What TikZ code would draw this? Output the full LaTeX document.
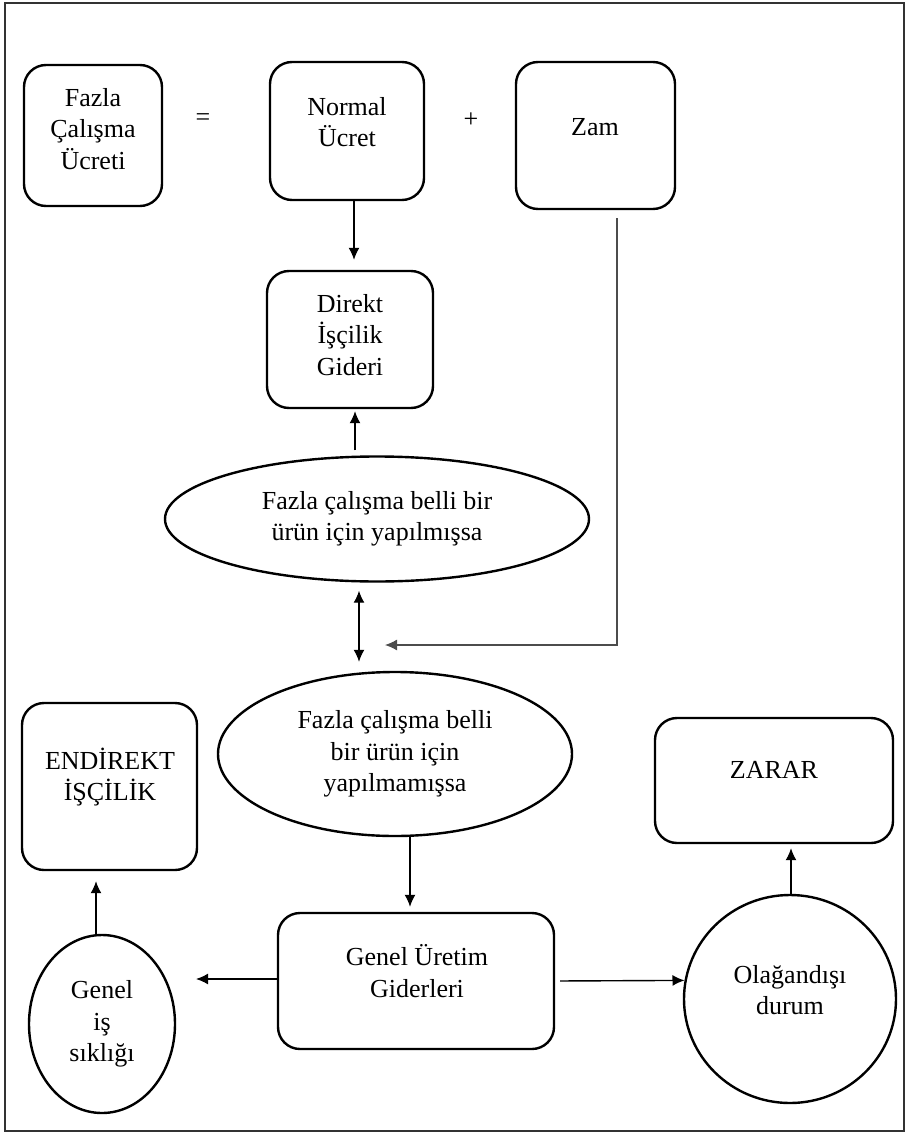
\documentclass[tikz,border=0pt]{standalone}
\usepackage{fontspec}
\setmainfont{Liberation Serif}
\usetikzlibrary{shapes.geometric, arrows.meta, positioning, calc}

\begin{document}
\begin{tikzpicture}[x=0.5pt, y=-0.5pt, >={Latex[length=6pt, width=5.5pt]},
	every node/.style={font=\fontsize{13}{15.75}\selectfont, align=center, inner sep=0pt},
	roundbox/.style={draw, line width=1.2pt, rounded corners=11pt},
	oval/.style={draw, ellipse, line width=1.2pt},
	every path/.style={line width=0.7pt},
	thinline/.style={line width=0.6pt, draw=black!70}]
			\useasboundingbox (0,0) rectangle (908,1134);
			\draw[line width=0.8pt, draw=black!80] (5,3) rectangle (904,1131);
			\node[roundbox, minimum width=69pt, minimum height=70.5pt] (fcu) at (93,135.5) {};
			\node (fcu-t) at (93,129) {Fazla\\Çalışma\\Ücreti};
			\node (eq) at (203,120) {=};
			\node[roundbox, minimum width=77pt, minimum height=69pt] (normal) at (347,131) {};
			\node (normal-t) at (347,122) {Normal\\Ücret};
			\node (plus) at (471,120) {+};
			\node[roundbox, minimum width=79.5pt, minimum height=73.5pt] (zam) at (595.5,135.5) {};
			\node (zam-t) at (595,127) {Zam};
			\node[roundbox, minimum width=83pt, minimum height=68.5pt] (direkt) at (350,339.5) {};
			\node (direkt-t) at (350,335) {Direkt\\İşçilik\\Gideri};
			\node[oval, minimum width=212pt, minimum height=62.5pt] (ell1) at (377,519) {Fazla çalışma belli bir\\ürün için yapılmışsa};
			\node[oval, minimum width=177pt, minimum height=82pt] (ell2) at (395,754) {Fazla çalışma belli\\bir ürün için\\yapılmamışsa};
			\node[roundbox, minimum width=87.5pt, minimum height=83.5pt] (endirekt) at (109.5,786.5) {};
			\node (endirekt-t) at (110,777) {ENDİREKT\\İŞÇİLİK};
			\node[roundbox, minimum width=119pt, minimum height=62.5pt] (zarar) at (774,780.5) {};
			\node (zarar-t) at (774,770) {ZARAR};
			\node[roundbox, minimum width=138pt, minimum height=68pt] (gen) at (416,981) {};
			\node (gen-t) at (417,971) {Genel Üretim\\Giderleri};
			\node[oval, minimum width=73pt, minimum height=89pt] (genel) at (102,1024) {Genel\\iş\\sıklığı};
			\node[oval, minimum width=106pt, minimum height=104pt] (olag) at (790,999) {};
			\node (olag-t) at (790,990) {Olağandışı\\durum};
			\coordinate (merge) at (385,645);
			\coordinate (gl) at (196,979);
			\draw[->, shorten >=5pt] ([xshift=3.5pt]normal.south) -- ([xshift=3.5pt]normal.south |- direkt.north);
			\draw[->, shorten <=2.5pt, shorten >=1pt] ([xshift=2.5pt]direkt.south |- ell1.north) -- ([xshift=2.5pt]direkt.south);
			\draw[<->, shorten <=4pt, shorten >=4.5pt] ([xshift=-9pt]ell1.south) -- ([xshift=-9pt]ell1.south |- ell2.north);
			\draw[thinline, ->] ([xshift=10.75pt, yshift=-4pt]zam.south) |- (merge);
			\draw[->, shorten >=2.5pt] ([xshift=7.5pt]ell2.south) -- ([xshift=7.5pt]ell2.south |- gen.north);
			\draw[->] ([yshift=1pt]gen.west) -- (gl);
			\draw[->, shorten <=2.5pt] (gen.east) -- (olag.170);
			\draw[->, shorten >=5pt] ([xshift=-3pt]genel.north) -- ([xshift=-3pt]genel.north |- endirekt.south);
			\draw[->, shorten >=2pt] ([xshift=0.5pt]olag.north) -- ([xshift=0.5pt]olag.north |- zarar.south);
		\end{tikzpicture}
\end{document}
